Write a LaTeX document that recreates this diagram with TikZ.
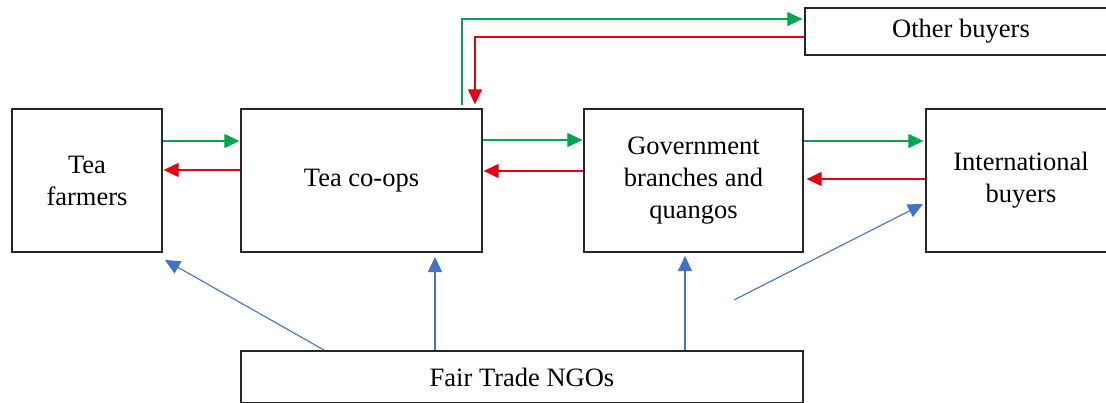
\documentclass[tikz,border=0pt]{standalone}
\usepackage{fontspec}
\setmainfont{Liberation Serif}
\usetikzlibrary{arrows.meta,calc}
\definecolor{flowgreen}{RGB}{0,166,80}
\definecolor{flowred}{RGB}{230,0,18}
\definecolor{ngoblue}{RGB}{68,114,196}
\tikzset{
  box/.style={draw=black!85, line width=1.3pt, rectangle, align=center,
    inner sep=0pt, font=\fontsize{26.5}{32}\selectfont},
  tip/.style={-{Triangle[length=15pt,width=14pt]}},
  goods/.style={tip, draw=flowgreen, line width=1.2pt},
  money/.style={tip, draw=flowred, line width=1.2pt},
  support/.style={tip, draw=ngoblue, line width=1.1pt},
}
\begin{document}
\begin{tikzpicture}[x=1pt,y=-1pt]
\useasboundingbox (0,0) rectangle (1106,402);
\clip (0,0) rectangle (1106,402);

% actors
\node[box, minimum width=150pt, minimum height=143pt] (farmers) at (87,180.5) {Tea\\farmers};
\node[box, minimum width=241pt, minimum height=143pt] (coops) at (361.5,180.5) {Tea co-ops};
\node[box, minimum width=219pt, minimum height=143pt] (gov) at (693.5,180.5) {Government\\branches and\\quangos};
\node[box, minimum width=190pt, minimum height=143pt] (intl) at (1021,180.5) {International\\buyers};
\node[box, minimum width=312pt, minimum height=47pt] (other) at (961,31.5) {Other buyers};
\node[box, minimum width=562pt, minimum height=52pt] (ngo) at (522,377) {Fair Trade NGOs};

% tea flows (green) and payments (red)
\draw[goods] (farmers.east |- 0,141) -- ($(coops.west |- 0,141)+(-1,0)$);
\draw[money] (coops.west |- 0,170) -- ($(farmers.east |- 0,170)+(1,0)$);
\draw[goods] (coops.east |- 0,140) -- ($(gov.west |- 0,140)+(-1,0)$);
\draw[money] (gov.west |- 0,171) -- ($(coops.east |- 0,171)+(1,0)$);
\draw[goods] (gov.east |- 0,141) -- ($(intl.west |- 0,141)+(-2,0)$);
\draw[money] (intl.west |- 0,179) -- ($(gov.east |- 0,179)+(3,0)$);

% side channel to other buyers
\coordinate (upG) at ($(coops.north -| 462,0)+(0,-3)$);
\coordinate (upR) at ($(coops.north -| 475,0)+(0,-4)$);
\draw[goods] (upG) |- ($(other.west |- 0,19)+(-2,0)$);
\draw[money] (other.west |- 0,37) -| (upR);

% NGO support
\coordinate (s1) at (324,350);
\coordinate (t1) at (165,260);
\coordinate (s2) at (435,350);
\coordinate (t2) at (435,257);
\coordinate (s3) at (685,350);
\coordinate (t3) at (685,256);
\coordinate (s4) at (734,300);
\coordinate (t4) at (923,204);
\draw[support] (s1) -- (t1);
\draw[support] (s2) -- (t2);
\draw[support] (s3) -- (t3);
\draw[support] (s4) -- (t4);
\end{tikzpicture}
\end{document}
